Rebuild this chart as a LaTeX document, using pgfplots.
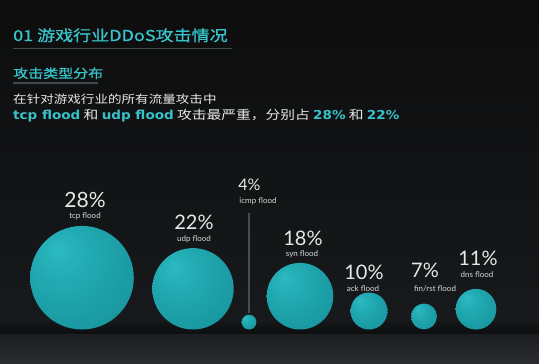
\documentclass[border=0pt]{standalone}
\usepackage{pgfplots}
\pgfplotsset{compat=1.18}
\usepackage{fontspec}
\setmainfont{Noto Sans CJK SC}[FakeStretch=1.2]
\newfontfamily\tfont{Noto Sans CJK SC}[FakeStretch=1.2, FakeBold=1]
\newfontfamily\lato{Lato}
\newfontfamily\wide{DejaVu Sans}[FakeStretch=1.1]
\definecolor{cy}{HTML}{38C2CA}
\definecolor{wt}{HTML}{E6E8E8}
\definecolor{sA}{HTML}{2CBAC2}
\definecolor{sB}{HTML}{21A9B1}
\definecolor{sC}{HTML}{1A99A1}
\definecolor{sD}{HTML}{14797F}
\definecolor{sE}{HTML}{0A474C}
\pgfdeclareradialshading{spheresh}{\pgfqpoint{-12bp}{14bp}}{color(0bp)=(sA); color(14bp)=(sB); color(32bp)=(sC); color(50bp)=(sD); color(64bp)=(sE)}
\pgfplotstableread{
x y v
82 277.7 28
193 288.8 22
249 322.1 4
300 296.2 18
369 311.0 10
424 316.5 7
476 309.2 11
}\spheres
\begin{document}
\begin{tikzpicture}
\begin{axis}[scale only axis, width=539pt, height=364pt,
  xmin=0, xmax=539, ymin=0, ymax=364, y dir=reverse, hide axis, clip=true]
\fill[top color=black!95!white, bottom color={rgb,255:red,23;green,25;blue,28}] (axis cs:0,0) rectangle (axis cs:539,322);
\fill[top color={rgb,255:red,20;green,21;blue,23}, bottom color={rgb,255:red,13;green,14;blue,16}] (axis cs:0,322) rectangle (axis cs:539,334);
\fill[top color={rgb,255:red,28;green,30;blue,33}, bottom color={rgb,255:red,43;green,45;blue,48}] (axis cs:0,334) rectangle (axis cs:539,364);
% underlines
\draw[line width=1.5pt, color={rgb,255:red,62;green,74;blue,77}] (axis cs:13,48.5) -- (axis cs:232,48.5);
\draw[line width=1.2pt, color={rgb,255:red,62;green,74;blue,77}] (axis cs:13,83) -- (axis cs:98,83);
% icmp leader
\draw[line width=1.2pt, color={rgb,255:red,74;green,76;blue,79}] (axis cs:249,213) -- (axis cs:249,313);
\addplot[scatter, only marks, mark=*, mark size=0.01pt, point meta=explicit,
  visualization depends on={1.85*\thisrow{v} \as \rad},
  scatter/@pre marker code/.code={%
    \pgfpathcircle{\pgfpointorigin}{\rad pt}%
    \pgfshadepath{spheresh}{0}%
    \pgfusepath{discard}%
    \begin{pgfscope}\pgfsetfillopacity{0}\pgfsetstrokeopacity{0}},
  scatter/@post marker code/.code={\end{pgfscope}}]
  table[x=x, y=y, meta=v] {\spheres};
% titles
\node[anchor=base west, text=cy, inner sep=0pt, font=\tfont\fontsize{15}{18}\selectfont] at (axis cs:13,41) {01 游戏行业DDoS攻击情况};
\node[anchor=base west, text=cy, inner sep=0pt, font=\tfont\fontsize{12.5}{15}\selectfont] at (axis cs:13,78) {攻击类型分布};
\node[anchor=base west, text=wt, inner sep=0pt, font=\fontsize{11.3}{14}\selectfont] at (axis cs:13,103) {在针对游戏行业的所有流量攻击中};
\node[anchor=base west, text=wt, inner sep=0pt, font=\fontsize{12.3}{14}\selectfont] at (axis cs:13,119) {{\wide\bfseries\color{cy}tcp flood} 和 {\wide\bfseries\color{cy}udp flood} 攻击最严重，分别占 {\wide\bfseries\color{cy}28\%} 和 {\wide\bfseries\color{cy}22\%}};
% labels
\tikzset{pct/.style={anchor=base, text=wt, inner sep=0pt, font=\lato\fontsize{20}{22}\selectfont},
         nm/.style={anchor=base, text=wt!85!gray, inner sep=0pt, font=\lato\fontsize{8}{9}\selectfont}}
\node[pct, font=\lato\fontsize{21}{22}\selectfont] at (axis cs:85,207) {28\%};
\node[nm] at (axis cs:85,218) {tcp flood};
\node[pct] at (axis cs:194,229) {22\%};
\node[nm] at (axis cs:194,241) {udp flood};
\node[pct, font=\lato\fontsize{16}{18}\selectfont] at (axis cs:249.5,190) {4\%};
\node[nm] at (axis cs:258,203) {icmp flood};
\node[pct] at (axis cs:303,245) {18\%};
\node[nm] at (axis cs:302,256) {syn flood};
\node[pct] at (axis cs:364,279) {10\%};
\node[nm] at (axis cs:363,291) {ack flood};
\node[pct] at (axis cs:425,277) {7\%};
\node[nm] at (axis cs:435,291) {fin/rst flood};
\node[pct] at (axis cs:478,265) {11\%};
\node[nm] at (axis cs:477,277) {dns flood};
\end{axis}
\end{tikzpicture}
\end{document}
